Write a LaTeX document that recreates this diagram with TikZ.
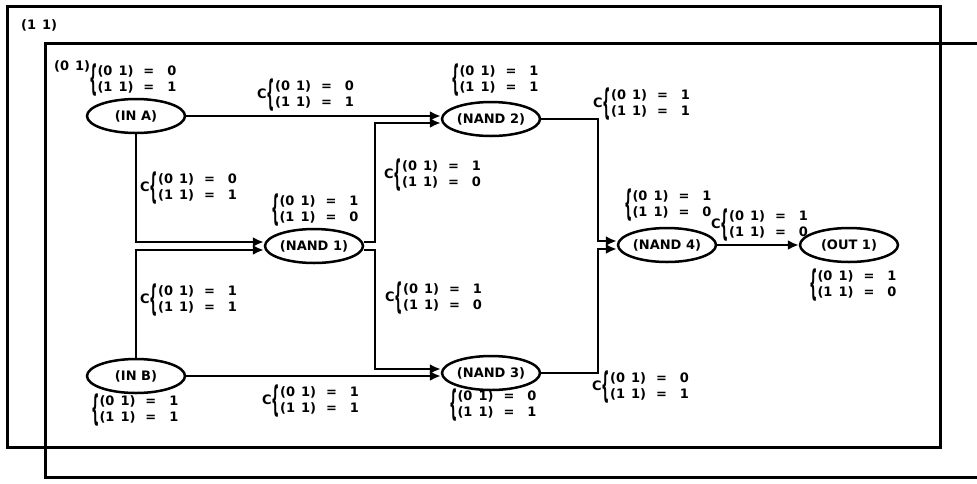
\documentclass[tikz,border=0pt]{standalone}
\usepackage{fontspec}
\usepackage{graphicx}
\setmainfont{DejaVu Sans}
\usetikzlibrary{shapes.geometric,arrows.meta}
\newcommand{\eql}[2]{(#1\hspace{6pt}1)\hspace{10pt}=\hspace{13pt}#2}
\newcommand{\twolines}[2]{$\vcenter{\hbox{\scalebox{0.9}[2.7]{\{}}}\vcenter{\hbox{\begin{tabular}{@{}l@{}}\eql{0}{#1}\\\eql{1}{#2}\end{tabular}}}$}
\newcommand{\ccnd}[2]{C\twolines{#1}{#2}}
\tikzset{
  gate/.style={ellipse, draw, line width=2.5pt, minimum width=98pt, minimum height=34pt, inner sep=0pt, font=\fontsize{13}{14}\selectfont\bfseries},
  wire/.style={line width=2.5pt},
  arr/.style={wire, -{Latex[length=11pt,width=10pt]}},
  lbl/.style={inner sep=0pt, anchor=west, font=\fontsize{13}{16.5}\selectfont\bfseries},
  frame/.style={line width=3pt},
}
\begin{document}
\begin{tikzpicture}[x=1pt,y=-1pt]
\useasboundingbox (0,0) rectangle (977,483);
% frames
\draw[frame] (7,6) rectangle (940,447);
\draw[frame] (977,43) -- (45,43) -- (45,477) -- (977,477);
\node[lbl] (t11) at (21,25) {(1\hspace{6pt}1)};
\node[lbl] (t01) at (54,66) {(0\hspace{6pt}1)};
% gates
\node[gate] (ina) at (136,116) {(IN A)};
\node[gate] (inb) at (136,376) {(IN B)};
\node[gate] (nand1) at (314,246) {(NAND 1)};
\node[gate] (nand2) at (491,119) {(NAND 2)};
\node[gate] (nand3) at (491,373) {(NAND 3)};
\node[gate] (nand4) at (667,245) {(NAND 4)};
\node[gate] (out1) at (849,245) {(OUT 1)};
% helper coordinates
\coordinate (va) at (375,0);
\coordinate (vb) at (598,0);
\coordinate (n1wu) at ([yshift=4pt]nand1.west);
\coordinate (n1wd) at ([yshift=-4pt]nand1.west);
\coordinate (n1eu) at ([yshift=4pt]nand1.east);
\coordinate (n1ed) at ([yshift=-4pt]nand1.east);
\coordinate (n2wd) at ([yshift=-4pt]nand2.west);
\coordinate (n3wu) at ([yshift=4pt]nand3.west);
\coordinate (n4wu) at ([yshift=4pt]nand4.west);
\coordinate (n4wd) at ([yshift=-4pt]nand4.west);
% wires
\draw[arr] (ina.east) -- (ina.east -| nand2.west);
\draw[arr] (ina.south) |- (n1wu);
\draw[arr] (inb.north) |- (n1wd);
\draw[arr] (n1eu) -- (n1eu -| va) |- (n2wd);
\draw[arr] (n1ed) -- (n1ed -| va) |- (n3wu);
\draw[arr] (inb.east) -- (inb.east -| nand3.west);
\draw[arr] (nand2.east) -- (nand2.east -| vb) |- (n4wu);
\draw[arr] (nand3.east) -- (nand3.east -| vb) |- (n4wd);
\draw[arr] (nand4.east) -- (out1.west);
% labels
\node[lbl] (lina) at (89,80) {\twolines{0}{1}};
\node[lbl] (le1) at (257,95) {\ccnd{0}{1}};
\node[lbl] (le2) at (140,188) {\ccnd{0}{1}};
\node[lbl] (lnand1) at (271,210) {\twolines{1}{0}};
\node[lbl] (le3) at (140,300) {\ccnd{1}{1}};
\node[lbl] (linb) at (91,410) {\twolines{1}{1}};
\node[lbl] (le4) at (262,401) {\ccnd{1}{1}};
\node[lbl] (lnand2) at (451,80) {\twolines{1}{1}};
\node[lbl] (le5) at (384,175) {\ccnd{1}{0}};
\node[lbl] (le6) at (385,298) {\ccnd{1}{0}};
\node[lbl] (lnand3) at (449,405) {\twolines{0}{1}};
\node[lbl] (le7) at (593,104) {\ccnd{1}{1}};
\node[lbl] (lnand4) at (624,205) {\twolines{1}{0}};
\node[lbl] (le8) at (711,225) {\ccnd{1}{0}};
\node[lbl] (lout1) at (809,285) {\twolines{1}{0}};
\node[lbl] (le9) at (592,387) {\ccnd{0}{1}};
\end{tikzpicture}
\end{document}
